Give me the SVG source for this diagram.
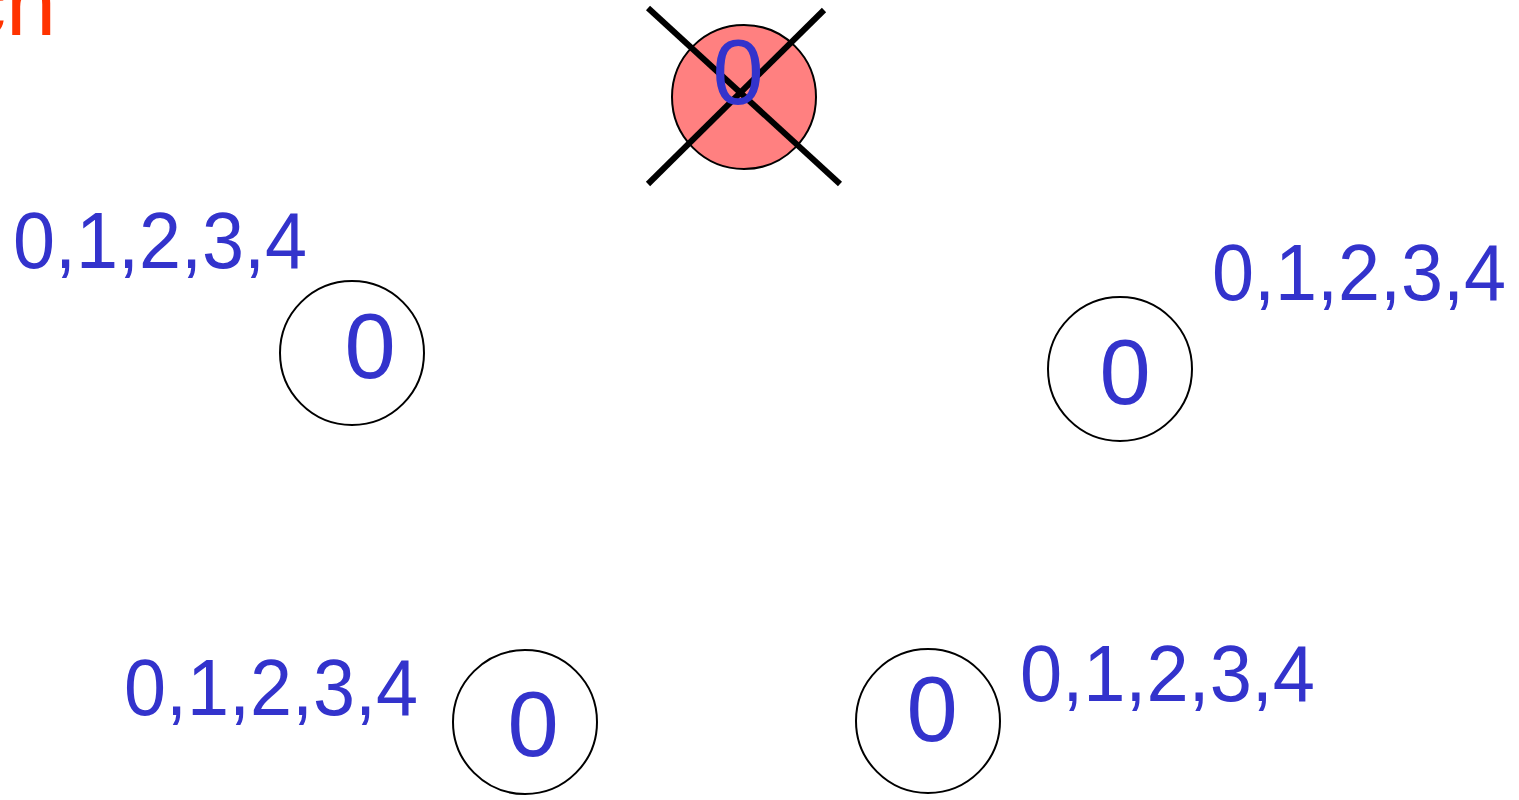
<svg xmlns="http://www.w3.org/2000/svg" width="1519" height="800" viewBox="0 0 1519 800">
<style>
.node{fill:#FFFFFF;stroke:#000000;stroke-width:2}
.dead{fill:#FF8080;stroke:#000000;stroke-width:2}
.big{font-family:"Liberation Sans",Arial,sans-serif;font-size:92px;fill:#3333CC;text-anchor:middle}
.lbl{font-family:"Liberation Sans",Arial,sans-serif;font-size:80px;fill:#3333CC}
.cross{stroke:#000000;stroke-width:6;stroke-linecap:butt}
</style>
<rect width="1519" height="800" fill="#FFFFFF"/>
<text x="56" y="35" font-family="Liberation Sans, Arial, sans-serif" font-size="90" fill="#FF3300" text-anchor="end">ch</text>
<g id="node-top">
<circle class="dead" cx="744" cy="97" r="72"/>
<line class="cross" x1="648" y1="8" x2="840" y2="184"/>
<line class="cross" x1="824" y1="10" x2="648" y2="184"/>
<text class="big" x="738" y="104">0</text>
</g>
<g id="node-left">
<circle class="node" cx="352" cy="353" r="72"/>
<text class="big" x="370" y="378">0</text>
<text class="lbl" x="13" y="268" textLength="294" lengthAdjust="spacingAndGlyphs">0,1,2,3,4</text>
</g>
<g id="node-right">
<circle class="node" cx="1120" cy="369" r="72"/>
<text class="big" x="1125" y="404">0</text>
<text class="lbl" x="1212" y="300" textLength="294" lengthAdjust="spacingAndGlyphs">0,1,2,3,4</text>
</g>
<g id="node-bottom-left">
<circle class="node" cx="525" cy="722" r="72"/>
<text class="big" x="533" y="756">0</text>
<text class="lbl" x="124" y="715" textLength="294" lengthAdjust="spacingAndGlyphs">0,1,2,3,4</text>
</g>
<g id="node-bottom-right">
<circle class="node" cx="928" cy="721" r="72"/>
<text class="big" x="932" y="741">0</text>
<text class="lbl" x="1020" y="701" textLength="295" lengthAdjust="spacingAndGlyphs">0,1,2,3,4</text>
</g>
<g id="connectors"></g>
</svg>
